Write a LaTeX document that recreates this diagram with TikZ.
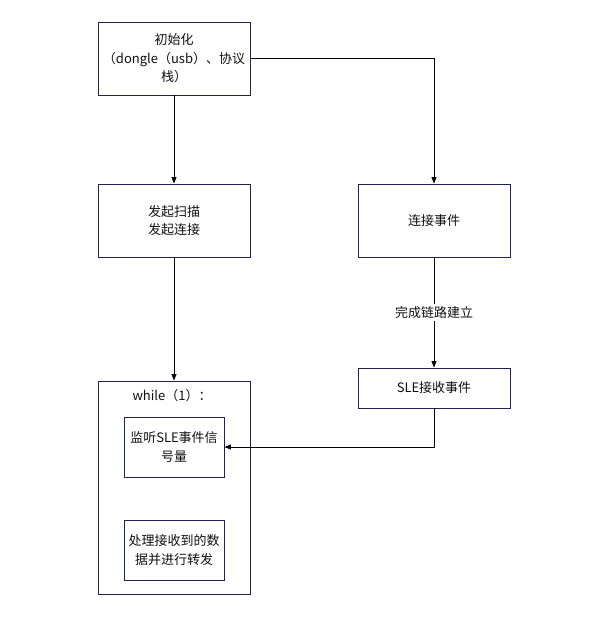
\documentclass[tikz,border=0pt]{standalone}
\usepackage{fontspec}
\setmainfont{Noto Sans CJK SC}
\usetikzlibrary{arrows.meta}
\definecolor{boxc}{HTML}{1F2352}
\definecolor{txt}{HTML}{111111}
\begin{document}
\begin{tikzpicture}[x=1pt,y=-1pt,
  box/.style={draw=boxc,line width=0.9pt,fill=white,inner sep=0pt,align=center,text=txt,font=\fontsize{13}{18.5}\selectfont},
  conn/.style={draw=black,line width=0.8pt,-{Triangle[length=6.5pt,width=5pt]}},
  lbl/.style={text=txt,font=\fontsize{13}{18.5}\selectfont,fill=white,inner sep=2pt}]
\useasboundingbox (0,0) rectangle (605,626);
\node[box,minimum width=152pt,minimum height=73pt] (init) at (174,58.5) {初始化\\（dongle（usb）、协议\\栈）};
\node[box,minimum width=152pt,minimum height=73pt] (scan) at (174,220.5) {发起扫描\\发起连接};
\node[box,minimum width=152pt,minimum height=73pt] (conn) at (434,220.5) {连接事件};
\node[box,minimum width=152pt,minimum height=40pt] (sle) at (434,388) {SLE接收事件};
\node[box,minimum width=152pt,minimum height=213pt] (loop) at (174,487.5) {};
\node[text=txt,font=\fontsize{13}{18.5}\selectfont] (wl) at (172,396) {while（1）：};
\node[box,minimum width=100pt,minimum height=60pt] (listen) at (174,447) {监听SLE事件信\\号量};
\node[box,minimum width=100pt,minimum height=60pt] (proc) at (174,550) {处理接收到的数\\据并进行转发};
\coordinate (c1) at (434,58.5);
\coordinate (c2) at (434,447);
\draw[conn] (init) -- (scan);
\draw[conn] (init.east) -- (c1) -- (conn.north);
\draw[conn] (scan) -- (loop.north);
\draw[conn] (conn) -- node[lbl] (lk) {完成链路建立} (sle);
\draw[conn] (sle.south) -- (c2) -- (listen.east);
\end{tikzpicture}
\end{document}
